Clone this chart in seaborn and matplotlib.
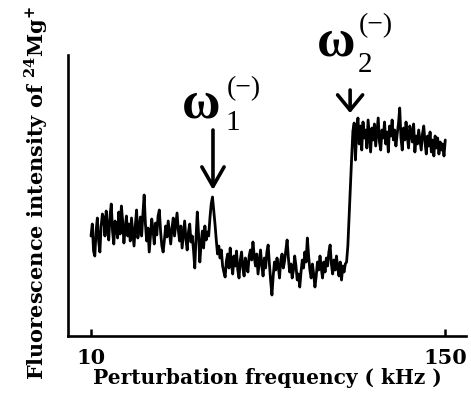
import numpy as np
import pandas as pd
import matplotlib
matplotlib.use("Agg")
import matplotlib.pyplot as plt
import seaborn as sns

# ---- data (intensity in arbitrary units) ----
freq_start, freq_stop, freq_step = 10.0, 150.0, 0.5
intensity_10_35 = [
    100, 112, 85, 80, 105, 118, 95, 84, 110, 122,
    118, 100, 125, 108, 96, 120, 132, 105, 92, 115,
    110, 98, 124, 102, 130, 115, 93, 108, 120, 100,
    112, 95, 118, 104, 90, 110, 126, 98, 106, 119,
    100, 122, 141, 112, 95, 108, 84, 100, 117, 106,
]
intensity_35_60 = [
    92, 113, 101, 120, 126, 104, 90, 84, 96, 110,
    99, 115, 103, 92, 108, 118, 100, 112, 123, 106,
    95, 110, 88, 102, 115, 97, 86, 104, 112, 94,
    100, 86, 68, 98, 124, 102, 74, 92, 105, 88,
    110, 96, 104, 100, 118, 132, 139, 126, 112, 96,
]
intensity_60_85 = [
    82, 90, 78, 86, 70, 64, 59, 75, 82, 68,
    88, 72, 62, 80, 70, 85, 66, 58, 76, 84,
    68, 60, 78, 72, 64, 80, 86, 76, 94, 80,
    70, 82, 62, 74, 86, 70, 60, 78, 68, 84,
    91, 72, 55, 41, 60, 74, 66, 78, 70, 58,
]
intensity_85_110 = [
    76, 82, 68, 75, 86, 96, 78, 64, 72, 58,
    66, 80, 70, 56, 62, 49, 64, 76, 68, 84,
    74, 98, 80, 66, 58, 72, 62, 49, 60, 74,
    66, 80, 68, 58, 74, 64, 78, 70, 84, 91,
    72, 62, 76, 66, 80, 68, 60, 74, 56, 70,
]
intensity_110_135 = [
    64, 72, 74, 90, 120, 150, 178, 205, 213, 176,
    205, 218, 192, 210, 186, 214, 198, 206, 188, 216,
    200, 184, 208, 196, 212, 190, 204, 218, 194, 186,
    206, 198, 214, 192, 204, 184, 210, 200, 216, 196,
    206, 190, 202, 212, 228, 198, 186, 208, 196, 214,
]
intensity_135_150 = [
    200, 188, 210, 204, 194, 212, 184, 200, 192, 206,
    196, 186, 202, 210, 194, 182, 200, 190, 204, 184,
    196, 180, 200, 188, 198, 182, 194, 186, 192, 180,
    196,
]
xtick_values = [10, 150]
xtick_labels = ["10", "150"]
peak_freqs = [58.2, 112.4]
peak_subscripts = ["1", "2"]

intensity = (intensity_10_35 + intensity_35_60 + intensity_60_85 +
             intensity_85_110 + intensity_110_135 + intensity_135_150)
freq = np.arange(freq_start, freq_stop + freq_step / 2, freq_step)
assert len(freq) == len(intensity)
df = pd.DataFrame({"freq": freq, "intensity": intensity})

# ---- style ----
sns.set_theme(style="white")
plt.rcParams["font.family"] = ["DejaVu Serif"]
plt.rcParams["mathtext.fontset"] = "custom"
plt.rcParams["mathtext.rm"] = "DejaVu Serif:bold"
plt.rcParams["mathtext.bf"] = "DejaVu Serif:bold"

W, H = 471, 413
fig = plt.figure(figsize=(W / 100, H / 100), dpi=100)
ax = fig.add_axes([68 / W, (H - 336) / H, (466 - 68) / W, (336 - 55) / H])

sns.lineplot(data=df, x="freq", y="intensity", ax=ax, color="black",
             linewidth=2.0, estimator=None)

ax.set_xlim(0.9, 158.2)
ax.set_ylim(0, 281)
for s in ["top", "right"]:
    ax.spines[s].set_visible(False)
for s in ["left", "bottom"]:
    ax.spines[s].set_linewidth(1.9)
    ax.spines[s].set_color("black")
ax.set_yticks([])
ax.set_xticks(xtick_values)
ax.set_xticklabels(xtick_labels, fontsize=15, fontweight="bold")
ax.tick_params(axis="x", bottom=True, direction="in", length=5, width=1.8,
               pad=9, colors="black")

ax.set_xlabel("Perturbation frequency ( kHz )", fontsize=14.5,
              fontweight="bold", labelpad=0, color="black")
ax.set_ylabel(r"Fluorescence intensity of $^{\mathbf{24}}$Mg$^{\mathbf{+}}$",
              fontsize=15, fontweight="bold", color="black")
ax.yaxis.set_label_coords(-0.045, 0.51)

# ---- annotations ----
def fx(px):
    return 10 + (px - 91) / 2.53

def fy(py):
    return 336 - py

sym_font = dict(family="Liberation Serif", color="black", clip_on=False)
# omega 1
ax.text(fx(201.5), fy(118), "ω", fontsize=38, fontweight="bold",
        ha="center", va="baseline", **sym_font)
ax.text(fx(232.5), fy(130), peak_subscripts[0], fontsize=21,
        ha="center", va="baseline", **sym_font)
ax.text(fx(243.5), fy(88.5), "(\u2212)", fontsize=20,
        ha="center", va="center", **sym_font)
# omega 2
ax.text(fx(336.5), fy(55), "ω", fontsize=38, fontweight="bold",
        ha="center", va="baseline", **sym_font)
ax.text(fx(365), fy(72), peak_subscripts[1], fontsize=21,
        ha="center", va="baseline", **sym_font)
ax.text(fx(376), fy(25.5), "(\u2212)", fontsize=20,
        ha="center", va="center", **sym_font)

ax.annotate("", xy=(peak_freqs[0], fy(190)), xytext=(peak_freqs[0], fy(130)),
            arrowprops=dict(arrowstyle="->,head_length=0.7,head_width=0.4",
                            lw=2.6, color="black", mutation_scale=20,
                            shrinkA=0, shrinkB=0), annotation_clip=False)
ax.annotate("", xy=(peak_freqs[1], fy(113)), xytext=(peak_freqs[1], fy(90)),
            arrowprops=dict(arrowstyle="->,head_length=0.55,head_width=0.45",
                            lw=2.6, color="black", mutation_scale=20,
                            shrinkA=0, shrinkB=0), annotation_clip=False)

fig.savefig("out.png", dpi=100, facecolor="white")
